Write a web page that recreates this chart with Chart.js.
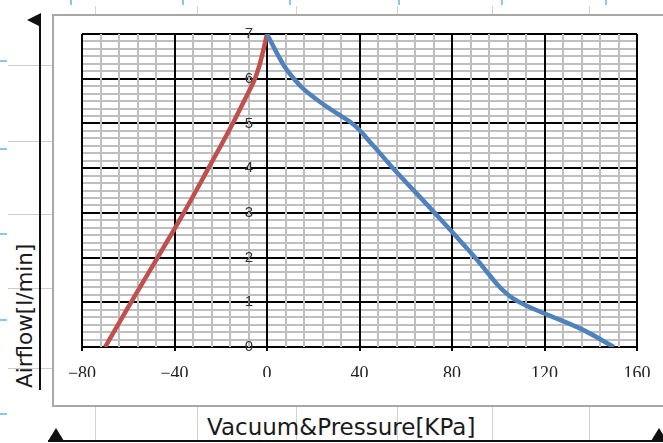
<!DOCTYPE html>
<html>
<head>
<meta charset="utf-8">
<script src="https://cdn.jsdelivr.net/npm/chart.js@4.4.0/dist/chart.umd.min.js"></script>
<style>
html, body { margin: 0; padding: 0; background: #fff; }
body { width: 663px; height: 443px; position: relative; overflow: hidden; }
.a { position: absolute; }
.frame { left: 52px; top: 14px; width: 700px; height: 393px; border: 2px solid #a8a8a8; box-sizing: border-box; }
.gv { width: 1px; background: #d2d2d2; }
.gh { height: 1px; background: #cdcdcd; left: 8px; width: 44px; }
.bv { width: 2px; height: 5px; top: 0; background: #8ec5ee; }
.bh { height: 2px; width: 7px; left: 0; background: #8ec5ee; }
.txt { font-family: "DejaVu Sans", sans-serif; color: #1a1a1a; white-space: nowrap; line-height: normal; }
#c { position: absolute; left: 0; top: 0; }
</style>
</head>
<body>
<div class="a frame"></div>

<div class="a gv" style="left:95px;top:6px;height:8px"></div>
<div class="a gv" style="left:197px;top:6px;height:8px"></div>
<div class="a gv" style="left:296px;top:6px;height:8px"></div>
<div class="a gv" style="left:397px;top:6px;height:8px"></div>
<div class="a gv" style="left:492px;top:6px;height:8px"></div>
<div class="a gv" style="left:589px;top:6px;height:8px"></div>

<div class="a gv" style="left:95px;top:407px;height:33px"></div>
<div class="a gv" style="left:197px;top:407px;height:33px"></div>
<div class="a gv" style="left:296px;top:407px;height:33px"></div>
<div class="a gv" style="left:397px;top:407px;height:33px"></div>
<div class="a gv" style="left:492px;top:407px;height:33px"></div>
<div class="a gv" style="left:589px;top:407px;height:33px"></div>

<div class="a gh" style="top:65px"></div>
<div class="a gh" style="top:141px"></div>
<div class="a gh" style="top:214px"></div>
<div class="a gh" style="top:288px"></div>
<div class="a gh" style="top:368px"></div>

<div class="a bv" style="left:70px"></div>
<div class="a bv" style="left:182px"></div>
<div class="a bv" style="left:289px"></div>
<div class="a bv" style="left:398px"></div>
<div class="a bv" style="left:501px"></div>
<div class="a bv" style="left:605px"></div>
<div class="a bh" style="top:60px"></div>
<div class="a bh" style="top:148px"></div>
<div class="a bh" style="top:233px"></div>
<div class="a bh" style="top:319px"></div>
<div class="a bh" style="top:413px"></div>

<!-- axis arrows -->
<div class="a" style="left:39px;top:20px;width:2px;height:370px;background:#111"></div>
<div class="a" style="left:27px;top:13px;width:0;height:0;border-top:7px solid transparent;border-bottom:7px solid transparent;border-right:14px solid #111"></div>
<div class="a" style="left:48px;top:440px;width:620px;height:2px;background:#111"></div>
<div class="a" style="left:48px;top:428px;width:0;height:0;border-left:8px solid transparent;border-right:8px solid transparent;border-bottom:13px solid #111"></div>
<div class="a" style="left:651px;top:428px;width:0;height:0;border-left:8px solid transparent;border-right:8px solid transparent;border-bottom:13px solid #111"></div>

<div class="a txt" style="left:207px;top:414px;font-size:23px">Vacuum&amp;Pressure[KPa]</div>
<div class="a txt" style="left:12px;top:388px;font-size:21.5px;transform-origin:0 0;transform:rotate(-90deg)">Airflow[l/min]</div>

<canvas id="c" width="663" height="443"></canvas>

<script>
// vacuum side (red) and pressure side (blue)
const vacuumKPa  = [-70, -58.8, -47.3, -36, -25.3, -14.8, -8, -5.2, -3, -1.3, 0];
const vacuumFlow = [0, 1, 2, 3, 4, 5, 5.7, 6, 6.35, 6.7, 7];

const pressureKPa  = [0, 4, 7.5, 11, 16, 24, 31, 38, 46, 54.5, 72.5, 90, 96, 101, 106, 112, 120, 136, 150];
const pressureFlow = [7, 6.6, 6.28, 6.04, 5.76, 5.44, 5.2, 4.95, 4.5, 4, 3, 2, 1.62, 1.32, 1.1, 0.93, 0.75, 0.4, 0];

const xMajorTicks = [-80, -40, 0, 40, 80, 120, 160];
const xTickLabels = ['\u221280', '\u221240', '0', '40', '80', '120', '160'];
const yTickLabels = ['0', '1', '2', '3', '4', '5', '6', '7'];

function isWhole(v) { return Math.abs(v - Math.round(v)) < 1e-6; }

new Chart(document.getElementById('c'), {
    type: 'scatter',
    data: {
        datasets: [{
            data: pressureKPa.map((x, i) => ({x: x, y: pressureFlow[i]})),
            showLine: true,
            borderColor: '#4F81BD',
            borderWidth: 4.5,
            pointRadius: 0,
            tension: 0.4
        }, {
            data: vacuumKPa.map((x, i) => ({x: x, y: vacuumFlow[i]})),
            showLine: true,
            borderColor: '#C0504D',
            borderWidth: 4.5,
            pointRadius: 0,
            tension: 0.4
        }]
    },
    options: {
        responsive: false,
        animation: false,
        layout: { padding: { left: 82, top: 34, right: 26, bottom: 66 } },
        plugins: { legend: { display: false }, tooltip: { enabled: false } },
        scales: {
            x: {
                type: 'linear',
                position: 'bottom',
                min: -80,
                max: 160,
                afterFit: s => { s.height = 30; },
                border: { display: false },
                grid: {
                    z: -1,
                    lineWidth: 2,
                    color: ctx => xMajorTicks.includes(ctx.tick.value) ? '#000' : '#bfbfbf',
                    drawTicks: true,
                    tickLength: 4,
                    tickWidth: 2,
                    tickColor: ctx => xMajorTicks.includes(ctx.tick.value) ? '#000' : 'rgba(0,0,0,0)'
                },
                ticks: {
                    stepSize: 8,
                    autoSkip: false,
                    maxRotation: 0,
                    padding: 12,
                    color: '#222',
                    font: { family: '"Liberation Serif", serif', size: 18 },
                    callback: v => {
                        const i = xMajorTicks.indexOf(v);
                        return i >= 0 ? xTickLabels[i] : '';
                    }
                }
            },
            y: {
                type: 'linear',
                position: 'left',
                min: 0,
                max: 7,
                border: { display: false },
                grid: {
                    z: -2,
                    lineWidth: 2,
                    drawTicks: false,
                    color: ctx => isWhole(ctx.tick.value) ? '#000' : '#bfbfbf'
                },
                ticks: { display: false, stepSize: 1 / 6, autoSkip: false }
            },
            yLabels: {
                type: 'linear',
                axis: 'y',
                position: { x: -6 },
                min: 0,
                max: 7,
                border: { display: false },
                grid: { display: false, drawTicks: false },
                ticks: {
                    stepSize: 1,
                    autoSkip: false,
                    color: '#333',
                    font: { family: '"Liberation Sans", sans-serif', size: 15 },
                    callback: v => yTickLabels[v] !== undefined ? yTickLabels[v] : ''
                }
            }
        }
    }
});
</script>
</body>
</html>
